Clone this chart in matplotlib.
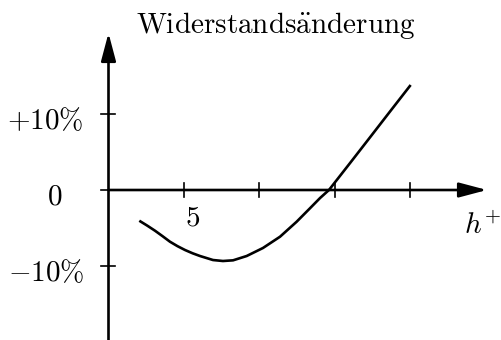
import matplotlib
matplotlib.use('Agg')
import matplotlib.pyplot as plt

plt.rcParams['mathtext.fontset'] = 'cm'

h_plus = [2.04, 2.56, 3.08, 3.58, 4.07, 4.57, 5.07, 5.57, 6.06, 6.92, 7.58, 8.25,
          9.15, 10.23, 11.36, 12.46, 13.34, 14.01, 14.60, 16.0, 17.32, 18.64, 20.01]
delta_r = [-4.06, -4.70, -5.38, -6.10, -6.83, -7.42, -7.93, -8.36, -8.72, -9.25, -9.38, -9.29,
           -8.72, -7.66, -6.17, -4.19, -2.42, -1.06, 0.0, 3.57, 6.96, 10.36, 13.87]

x_ticks = [5, 10, 15, 20]
x_tick_labels = {5: r'$5$'}
y_ticks = [10, 0, -10]
y_tick_labels = [r'$+10\%$', r'$0$', r'$-10\%$']
# Abstand der Beschriftung zur y-Achse (Punkte)
y_label_gap = [-18, -33, -17]

fig = plt.figure(figsize=(5.02, 3.40), dpi=100)
ax = fig.add_axes([0, 0, 1, 1])
ax.set_xlim(-108.5 / 15.1, (502 - 108.5) / 15.1)
ax.set_ylim(-(340 - 190) / 7.57, 190 / 7.57)
ax.axis('off')

lw = 1.9
arrow = dict(arrowstyle='-|>,head_length=1.7,head_width=0.45', lw=lw,
             color='black', mutation_scale=10, shrinkA=0, shrinkB=0)
# Achsen mit Pfeilspitzen
ax.annotate('', xy=(0, (190 - 33) / 7.57), xytext=(0, -20.5), arrowprops=arrow)
ax.annotate('', xy=((487 - 108.5) / 15.1, 0), xytext=(0, 0), arrowprops=arrow)

# Striche an den Achsen
tick = 7
for xt in x_ticks:
    ax.plot([xt, xt], [-tick / 7.57, tick / 7.57], color='black', lw=1.2)
    if xt in x_tick_labels:
        ax.annotate(x_tick_labels[xt], xy=(xt, 0), xytext=(6, -20),
                    textcoords='offset points', ha='center', va='center', fontsize=21)
for yt, lab, gap in zip(y_ticks, y_tick_labels, y_label_gap):
    lo = -tick / 15.1
    hi = tick / 15.1 if yt != 0 else 0
    ax.plot([lo, hi], [yt, yt], color='black', lw=1.2)
    ax.annotate(lab, xy=(0, yt), xytext=(gap, -5), textcoords='offset points',
                ha='right', va='center', fontsize=21)

ax.text((501 - 108.5) / 15.1, -(234 - 190) / 7.57, r'$h^{+}$', fontsize=21,
        ha='right', va='baseline')

ax.plot(h_plus, delta_r, color='black', lw=lw, solid_capstyle='butt',
        solid_joinstyle='round')

fig.text(276 / 502, 1 - 33 / 340, r'$\mathrm{Widerstands\ddot{a}nderung}$',
         fontsize=21, ha='center', va='baseline')

fig.savefig('out.png', dpi=100)
